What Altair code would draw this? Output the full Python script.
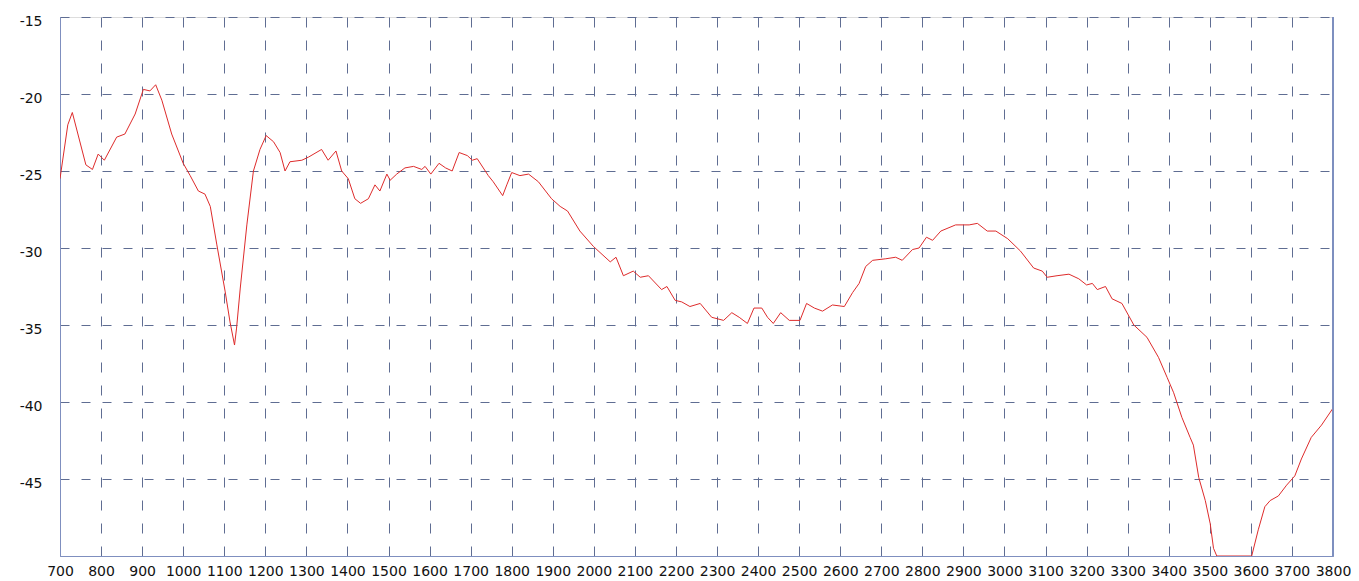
import altair as alt
import pandas as pd

wavenumber = [700, 719, 730, 763, 779, 793, 808, 838, 858, 883, 903, 919, 933, 948, 972,
              1000, 1017, 1037, 1053, 1066, 1082, 1102, 1114, 1125, 1130, 1139, 1155, 1171,
              1187, 1202, 1220, 1236, 1248, 1260, 1289, 1305, 1337, 1353, 1372, 1386, 1402,
              1418, 1432, 1451, 1467, 1479, 1496, 1504, 1520, 1540, 1561, 1581, 1589, 1603,
              1623, 1639, 1655, 1672, 1692, 1704, 1716, 1743, 1755, 1778, 1788, 1800, 1820,
              1841, 1865, 1897, 1918, 1936, 1966, 1999, 2040, 2054, 2072, 2096, 2113, 2133,
              2165, 2178, 2198, 2214, 2234, 2259, 2287, 2316, 2336, 2354, 2374, 2390, 2409,
              2423, 2437, 2455, 2476, 2502, 2518, 2537, 2557, 2581, 2610, 2630, 2646, 2662,
              2679, 2711, 2735, 2751, 2776, 2792, 2810, 2825, 2845, 2881, 2914, 2934, 2958,
              2979, 3008, 3039, 3071, 3092, 3104, 3128, 3157, 3181, 3200, 3214, 3226, 3246,
              3262, 3286, 3315, 3347, 3375, 3396, 3412, 3432, 3452, 3460, 3473, 3489, 3501,
              3509, 3517, 3602, 3618, 3634, 3647, 3667, 3687, 3707, 3723, 3747, 3772, 3800]

level_db = [-25.5, -22.0, -21.2, -24.6, -24.9, -23.9, -24.3, -22.8, -22.6, -21.3, -19.7, -19.8,
            -19.4, -20.4, -22.6, -24.5, -25.3, -26.3, -26.5, -27.3, -29.8, -32.8, -34.8, -36.3,
            -35.2, -32.6, -28.5, -25.0, -23.6, -22.7, -23.1, -23.8, -25.0, -24.4, -24.3, -24.1,
            -23.6, -24.3, -23.7, -25.0, -25.5, -26.8, -27.1, -26.8, -25.9, -26.3, -25.2, -25.6,
            -25.2, -24.8, -24.7, -24.9, -24.7, -25.2, -24.5, -24.8, -25.0, -23.8, -24.0, -24.3,
            -24.2, -25.3, -25.7, -26.6, -25.9, -25.1, -25.3, -25.2, -25.7, -26.8, -27.3, -27.6,
            -28.9, -29.9, -30.9, -30.6, -31.8, -31.5, -31.9, -31.8, -32.7, -32.5, -33.4, -33.5,
            -33.8, -33.6, -34.5, -34.7, -34.2, -34.5, -34.9, -33.9, -33.9, -34.5, -34.9, -34.2,
            -34.7, -34.7, -33.6, -33.9, -34.1, -33.7, -33.8, -32.9, -32.3, -31.2, -30.8, -30.7,
            -30.6, -30.8, -30.1, -30.0, -29.3, -29.5, -28.9, -28.5, -28.5, -28.4, -28.9, -28.9,
            -29.4, -30.2, -31.3, -31.5, -31.9, -31.8, -31.7, -32.0, -32.4, -32.3, -32.7, -32.5,
            -33.3, -33.6, -35.0, -35.8, -37.1, -38.4, -39.4, -41.0, -42.3, -42.8, -44.9, -46.4,
            -47.9, -49.5, -50.0, -50.0, -48.3, -46.8, -46.4, -46.1, -45.4, -44.8, -43.7, -42.3,
            -41.5, -40.4]

x_ticks = list(range(700, 3900, 100))
y_ticks = [-15, -20, -25, -30, -35, -40, -45]

df = pd.DataFrame({"wavenumber": wavenumber, "level": level_db})

grid_color = "#5f6d92"
frame_color = "#7f8fbf"

x_scale = alt.Scale(domain=[700, 3800], nice=False, zero=False)
y_scale = alt.Scale(domain=[-50, -15], nice=False, zero=False)

line = alt.Chart(df).mark_line(color="#de2b2b", strokeWidth=1, clip=True).encode(
    x=alt.X("wavenumber:Q", scale=x_scale, title=None,
            axis=alt.Axis(values=x_ticks, format="d", ticks=False, labelPadding=8,
                          labelFont="DejaVu Sans", labelFontSize=14, labelColor="#111111",
                          domainColor=frame_color, domainWidth=1,
                          grid=True, gridColor=grid_color, gridDash=[10, 13], gridWidth=1,
                          labelFlush=False, labelOverlap=False)),
    y=alt.Y("level:Q", scale=y_scale, title=None,
            axis=alt.Axis(values=y_ticks, ticks=False, labelPadding=18, labelOffset=4,
                          labelExpr="'-' + abs(datum.value)",
                          labelFont="DejaVu Sans", labelFontSize=14, labelColor="#111111",
                          domainColor=frame_color, domainWidth=1,
                          grid=True, gridColor=grid_color, gridDash=[9, 12], gridWidth=1,
                          labelFlush=False, labelOverlap=False)),
)

right_border = alt.Chart(df).mark_rule(color=frame_color, strokeWidth=1).encode(
    x=alt.datum(3800, scale=x_scale)
)

chart = alt.layer(line, right_border).properties(
    width=1273,
    height=539,
    autosize=alt.AutoSizeParams(type="none"),
    padding={"left": 52, "top": 9, "right": 18, "bottom": 24},
).configure_view(stroke=None).configure(background="white")

chart.save("out.html", embed_options={"renderer": "svg", "actions": False})
